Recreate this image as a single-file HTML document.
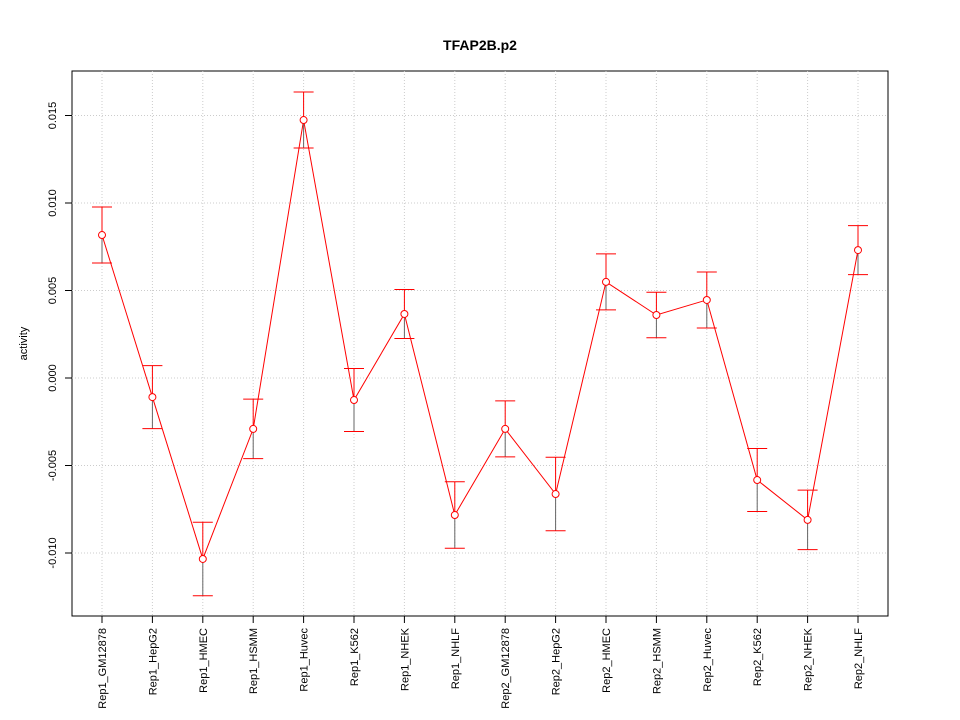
<!DOCTYPE html>
<html><head><meta charset="utf-8"><style>
body{margin:0;background:#fff;}
svg{display:block;font-family:"Liberation Sans",sans-serif;}
</style></head><body>
<svg id="chart" width="960" height="720">
<text x="480" y="50" text-anchor="middle" font-size="14" font-weight="bold">TFAP2B.p2</text>
<rect x="72" y="71" width="816" height="545" fill="none" stroke="#000"/>
<text transform="translate(27,343.5) rotate(-90)" text-anchor="middle" font-size="11">activity</text>
<g id="grid"></g><g id="axes"></g><g id="marks"></g>
</svg>
<script>
const categories=["Rep1_GM12878","Rep1_HepG2","Rep1_HMEC","Rep1_HSMM","Rep1_Huvec","Rep1_K562","Rep1_NHEK","Rep1_NHLF","Rep2_GM12878","Rep2_HepG2","Rep2_HMEC","Rep2_HSMM","Rep2_Huvec","Rep2_K562","Rep2_NHEK","Rep2_NHLF"];
const values=[0.00817,-0.00109,-0.01034,-0.00291,0.01474,-0.00126,0.00366,-0.00783,-0.00291,-0.00663,0.00549,0.0036,0.00446,-0.00583,-0.00811,0.00731];
const errors=[0.0016,0.0018,0.0021,0.0017,0.0016,0.0018,0.0014,0.0019,0.0016,0.0021,0.0016,0.0013,0.0016,0.0018,0.0017,0.0014];
const yTicks=[-0.010,-0.005,0.000,0.005,0.010,0.015];
const yTickLabels=["-0.010","-0.005","0.000","0.005","0.010","0.015"];
const NS="http://www.w3.org/2000/svg";
function X(i){return 102+i*(858-102)/(categories.length-1);}
function Y(v){return 378-v*17500;}
function mk(tag,attrs,parent){const e=document.createElementNS(NS,tag);for(const k in attrs)e.setAttribute(k,attrs[k]);parent.appendChild(e);return e;}
const grid=document.getElementById('grid'),axes=document.getElementById('axes'),marks=document.getElementById('marks');
categories.forEach((c,i)=>{
 const g=mk('line',{x1:X(i),x2:X(i),y1:71,y2:616,stroke:'#ccc','stroke-dasharray':'1,2'},grid);
 
 
 const t=mk('line',{x1:X(i),x2:X(i),y1:616,y2:623,stroke:'#000'},axes);
 
 
 const l=mk('text',{transform:`translate(${X(i)+4},628) rotate(-90)`,'text-anchor':'end','font-size':'11'},axes);
 l.textContent=c;
 
 
});
yTicks.forEach((v,i)=>{
 const g=mk('line',{x1:72,x2:888,y1:Y(v),y2:Y(v),stroke:'#ccc','stroke-dasharray':'1,2'},grid);
 
 
 const t=mk('line',{x1:65,x2:72,y1:Y(v),y2:Y(v),stroke:'#000'},axes);
 
 
 const l=mk('text',{transform:`translate(56,${Y(v)}) rotate(-90)`,'text-anchor':'middle','font-size':'11'},axes);
 l.textContent=yTickLabels[i];
 
 
});
const pts=values.map((v,i)=>X(i)+','+Y(v)).join(' ');
const line=mk('polyline',{points:pts,fill:'none',stroke:'#f00','stroke-width':1},marks);


values.forEach((v,i)=>{
 const x=X(i),yt=Y(v+errors[i]),yb=Y(v-errors[i]),y=Y(v);
 const up=mk('line',{x1:x,x2:x,y1:yt,y2:y,stroke:'#f00'},marks);
 
 
 const dn=mk('line',{x1:x,x2:x,y1:y,y2:yb,stroke:'#666'},marks);
 
 
 const c1=mk('line',{x1:x-10,x2:x+10,y1:yt,y2:yt,stroke:'#f00'},marks);
 
 
 const c2=mk('line',{x1:x-10,x2:x+10,y1:yb,y2:yb,stroke:'#f00'},marks);
 
 
 const p=mk('circle',{cx:x,cy:y,r:3.5,fill:'#fff',stroke:'#f00'},marks);
 
 
});
</script>
</body></html>
